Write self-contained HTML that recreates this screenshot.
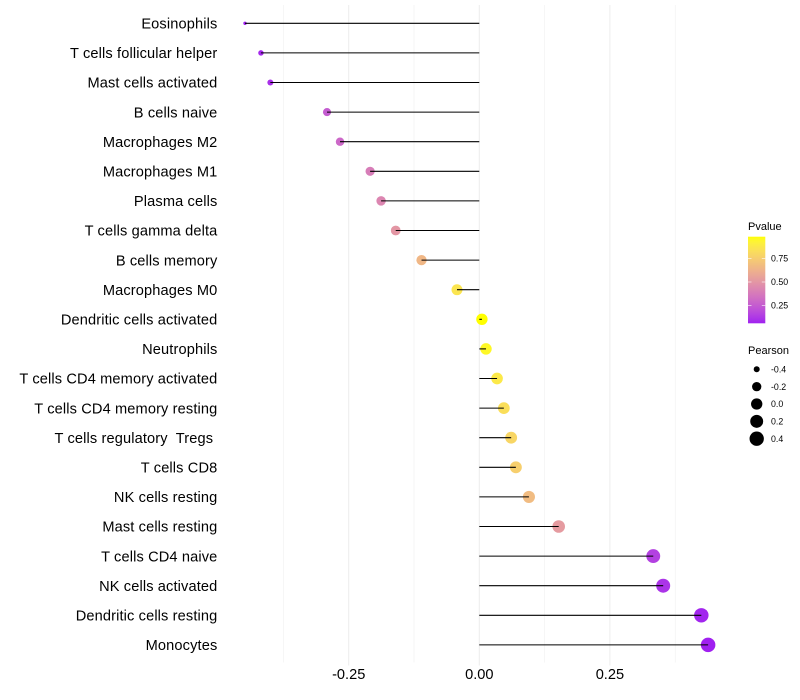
<!DOCTYPE html>
<html>
<head>
<meta charset="utf-8">
<title>Immune cell correlation lollipop chart</title>
<style>
html,body{margin:0;padding:0;background:#fff;}
svg{display:block;font-family:"Liberation Sans",Arial,sans-serif;}
</style>
</head>
<body>
<svg id="chart" width="800" height="700" viewBox="0 0 800 700" xmlns="http://www.w3.org/2000/svg">
<defs>
<linearGradient id="pvalue-gradient" x1="0" y1="1" x2="0" y2="0"></linearGradient>
</defs>
<g id="grid"></g>
<g id="points"></g>
<g id="stems"></g>
<g id="y-axis"></g>
<g id="x-axis"></g>
<g id="legend-pvalue">
<text x="748" y="230" font-size="11" fill="#000">Pvalue</text>
<rect x="748" y="236.7" width="17.3" height="86.6" fill="url(#pvalue-gradient)"></rect>
</g>
<g id="legend-pearson">
<text x="748" y="354" font-size="11" fill="#000">Pearson</text>
</g>
</svg>
<script>
const cellTypes = ["Eosinophils","T cells follicular helper","Mast cells activated","B cells naive","Macrophages M2","Macrophages M1","Plasma cells","T cells gamma delta","B cells memory","Macrophages M0","Dendritic cells activated","Neutrophils","T cells CD4 memory activated","T cells CD4 memory resting","T cells regulatory  Tregs ","T cells CD8","NK cells resting","Mast cells resting","T cells CD4 naive","NK cells activated","Dendritic cells resting","Monocytes"];
const pearson = [-0.4485,-0.418,-0.400,-0.2915,-0.2666,-0.209,-0.188,-0.160,-0.1106,-0.0427,0.005,0.0128,0.034,0.047,0.061,0.070,0.095,0.152,0.333,0.352,0.425,0.438];
const pvalues = [0.06,0.08,0.10,0.25,0.30,0.39,0.43,0.50,0.65,0.86,0.98,0.95,0.88,0.83,0.79,0.76,0.67,0.52,0.15,0.11,0.07,0.06];
const xTicks = [-0.25,0,0.25];
const xTickLabels = ["-0.25","0.00","0.25"];
const xMinorTicks = [-0.375,-0.125,0.125,0.375];
const colorTicks = [0.25,0.5,0.75];
const colorTickLabels = ["0.25","0.50","0.75"];
const sizeLegendValues = [-0.4,-0.2,0,0.2,0.4];
const sizeLegendLabels = ["-0.4","-0.2","0.0","0.2","0.4"];

const NS = "http://www.w3.org/2000/svg";
function make(tag, attrs, parent, text) {
  const el = document.createElementNS(NS, tag);
  for (const k in attrs) el.setAttribute(k, attrs[k]);
  if (text !== undefined) el.textContent = text;
  parent.appendChild(el);
  return el;
}
const byId = id => document.getElementById(id);

function xScale(v) { return 479.3 + v * 522.4; }
function yScale(i) { return 23.3 + i * 29.6; }
function colorbarY(p) { return 282 - (p - 0.5) * 94; }

function srgbToLab(hex) {
  const c = [1,3,5].map(i => parseInt(hex.substr(i,2),16)/255)
    .map(v => v <= 0.04045 ? v/12.92 : Math.pow((v+0.055)/1.055,2.4));
  const X = (0.4124*c[0]+0.3576*c[1]+0.1805*c[2])/0.95047;
  const Y = 0.2126*c[0]+0.7152*c[1]+0.0722*c[2];
  const Z = (0.0193*c[0]+0.1192*c[1]+0.9505*c[2])/1.08883;
  const f = t => t > 0.008856 ? Math.cbrt(t) : 7.787*t+16/116;
  return [116*f(Y)-16, 500*(f(X)-f(Y)), 200*(f(Y)-f(Z))];
}
function labToCss(l) {
  const fy = (l[0]+16)/116, fx = fy+l[1]/500, fz = fy-l[2]/200;
  const g = t => t*t*t > 0.008856 ? t*t*t : (t-16/116)/7.787;
  const X = g(fx)*0.95047, Y = g(fy), Z = g(fz)*1.08883;
  const rgb = [3.2406*X-1.5372*Y-0.4986*Z, -0.9689*X+1.8758*Y+0.0415*Z, 0.0557*X-0.2040*Y+1.0570*Z];
  const out = rgb.map(v => {
    v = Math.max(0, Math.min(1, v));
    v = v <= 0.0031308 ? 12.92*v : 1.055*Math.pow(v,1/2.4)-0.055;
    return Math.round(v*255);
  });
  return "rgb(" + out.join(",") + ")";
}
const labLow = srgbToLab("#a020f0");
const labHigh = srgbToLab("#ffff00");
function colorAt(t) {
  t = Math.max(0, Math.min(1, t));
  return labToCss(labLow.map((v,i) => v + (labHigh[i]-v)*t));
}
function pColor(p) { return colorAt((p - 0.06) / (0.98 - 0.06)); }

const sDomain = [Math.min(...pearson), Math.max(...pearson)];
function pointRadius(v) {
  const t = Math.max(0, (v - sDomain[0]) / (sDomain[1] - sDomain[0]));
  return (3.4 + Math.sqrt(t) * 11.15) / 2;
}

const PANEL_TOP = 5, PANEL_BOTTOM = 662.5;

xMinorTicks.forEach(v => {
  const line = make("line", {x1:xScale(v), x2:xScale(v), y1:PANEL_TOP, y2:PANEL_BOTTOM, stroke:"#efefef", "stroke-width":0.55}, byId("grid"));
  
  
});
xTicks.forEach(v => {
  const line = make("line", {x1:xScale(v), x2:xScale(v), y1:PANEL_TOP, y2:PANEL_BOTTOM + 3, stroke:"#eeeeee", "stroke-width":1.07}, byId("grid"));
  
  
});

pearson.forEach((v, i) => {
  const dot = make("circle", {cx:xScale(v), cy:yScale(i), r:pointRadius(v), fill:pColor(pvalues[i])}, byId("points"));
  
  
  const stem = make("line", {x1:xScale(0), x2:xScale(v), y1:yScale(i), y2:yScale(i), stroke:"#000", "stroke-width":1.07}, byId("stems"));
  
  
});

cellTypes.forEach((name, i) => {
  const label = make("text", {x:217.4, y:yScale(i) + 5.2, "text-anchor":"end", "font-size":14.6, "letter-spacing":0.13, fill:"#000", "xml:space":"preserve", style:"white-space:pre"}, byId("y-axis"), name);
  
  
});

xTicks.forEach((v, i) => {
  const label = make("text", {x:xScale(v), y:679, "text-anchor":"middle", "font-size":14.6, fill:"#000"}, byId("x-axis"), xTickLabels[i]);
  
  
});

for (let k = 0; k <= 40; k++) {
  const t = k / 40;
  make("stop", {offset:t, "stop-color":colorAt(t)}, byId("pvalue-gradient"));
}
colorTicks.forEach((p, i) => {
  const y = colorbarY(p);
  const tickL = make("line", {x1:748, x2:751.5, y1:y, y2:y, stroke:"#fff", "stroke-width":0.6}, byId("legend-pvalue"));
  
  
  const tickR = make("line", {x1:761.8, x2:765.3, y1:y, y2:y, stroke:"#fff", "stroke-width":0.6}, byId("legend-pvalue"));
  
  
  const label = make("text", {x:771, y:y + 3.2, "font-size":8.8, fill:"#000"}, byId("legend-pvalue"), colorTickLabels[i]);
  
  
});

sizeLegendValues.forEach((v, i) => {
  const y = 369.3 + i * 17.35;
  const dot = make("circle", {cx:756.7, cy:y, r:pointRadius(v), fill:"#000"}, byId("legend-pearson"));
  
  
  const label = make("text", {x:771, y:y + 3.2, "font-size":8.8, fill:"#000"}, byId("legend-pearson"), sizeLegendLabels[i]);
  
  
});
</script>
</body>
</html>
